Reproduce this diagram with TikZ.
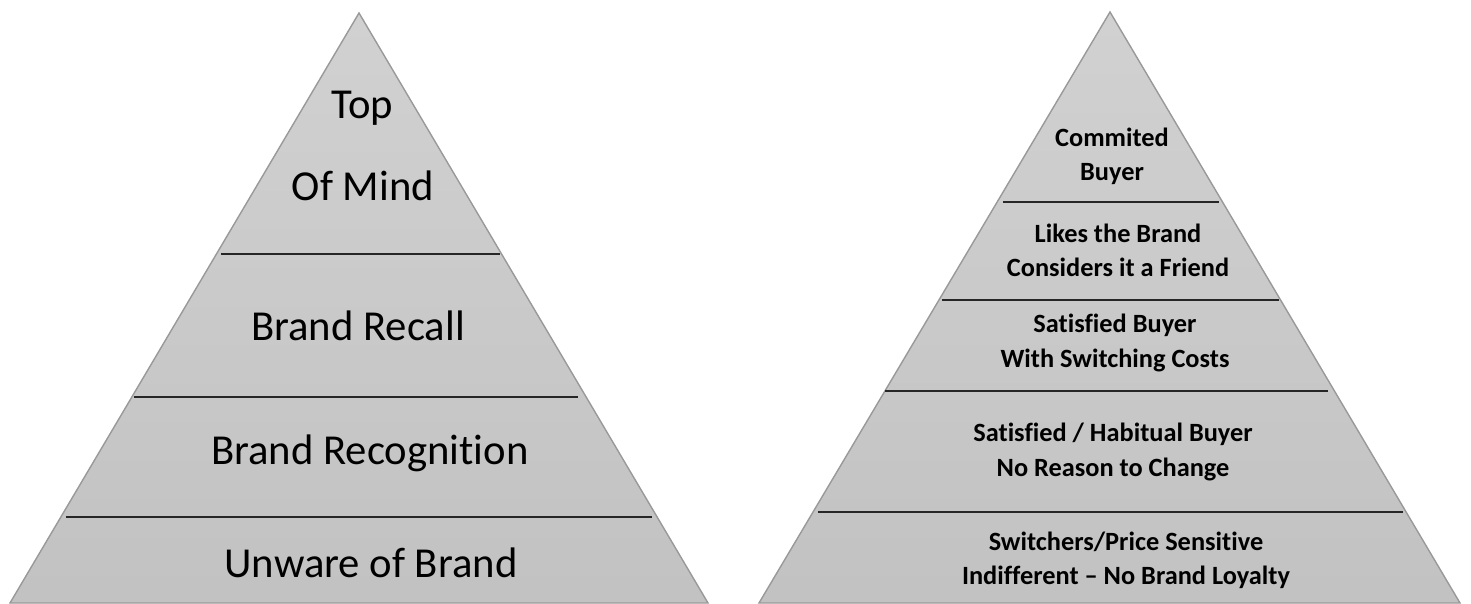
\documentclass[tikz,border=0pt]{standalone}
\usepackage{fontspec}
\setmainfont[Ligatures=NoCommon]{Carlito}
\usepackage{tikz}
\usetikzlibrary{positioning}
\tikzset{
    pyramid/.style = {draw=black!40, line width=0.8pt, top color=black!18, bottom color=black!24},
    tierline/.style = {line width=1.1pt, draw=black!85},
    big/.style = {font=\fontsize{24.3}{29}\selectfont, inner sep=0pt},
    small/.style = {font=\fontsize{15}{19.5}\selectfont\bfseries, align=center, inner sep=0pt}
}
\begin{document}
\begin{tikzpicture}[x=0.02cm, y=-0.02cm]
  \path[use as bounding box] (0,0) rectangle (1471,603);

  % awareness pyramid
  \shadedraw[pyramid] (10,603) -- (359,13) -- (708,603) -- cycle;
  \draw[tierline] (221,254) -- (500,254);
  \draw[tierline] (134,397) -- (578,397);
  \draw[tierline] (66,517) -- (652,517);

  \node[big] (top)   at (362,108) {Top};
  \node[big] (mind)  at (363,186) {Of Mind};
  \node[big] (rcl)   at (358,326) {Brand Recall};
  \node[big] (rcg)   at (370,453) {Brand Recognition};
  \node[big] (unw)   at (371,563) {Unware of Brand};

  % loyalty pyramid
  \shadedraw[pyramid] (759,603) -- (1110,12) -- (1460,603) -- cycle;
  \draw[tierline] (1003,202) -- (1219,202);
  \draw[tierline] (942,300) -- (1279,300);
  \draw[tierline] (885,391) -- (1328,391);
  \draw[tierline] (818,512) -- (1403,512);

  \node[small] (comm)  at (1112,156) {Commited\\Buyer};
  \node[small] (likes) at (1118,250) {Likes the Brand\\Considers it a Friend};
  \node[small] (sat)   at (1115,343) {Satisfied Buyer\\With Switching Costs};
  \node[small] (hab)   at (1113,452) {Satisfied / Habitual Buyer\\No Reason to Change};
  \node[small] (sw)    at (1126,560) {Switchers/Price Sensitive\\Indifferent -- No Brand Loyalty};
\end{tikzpicture}
\end{document}
